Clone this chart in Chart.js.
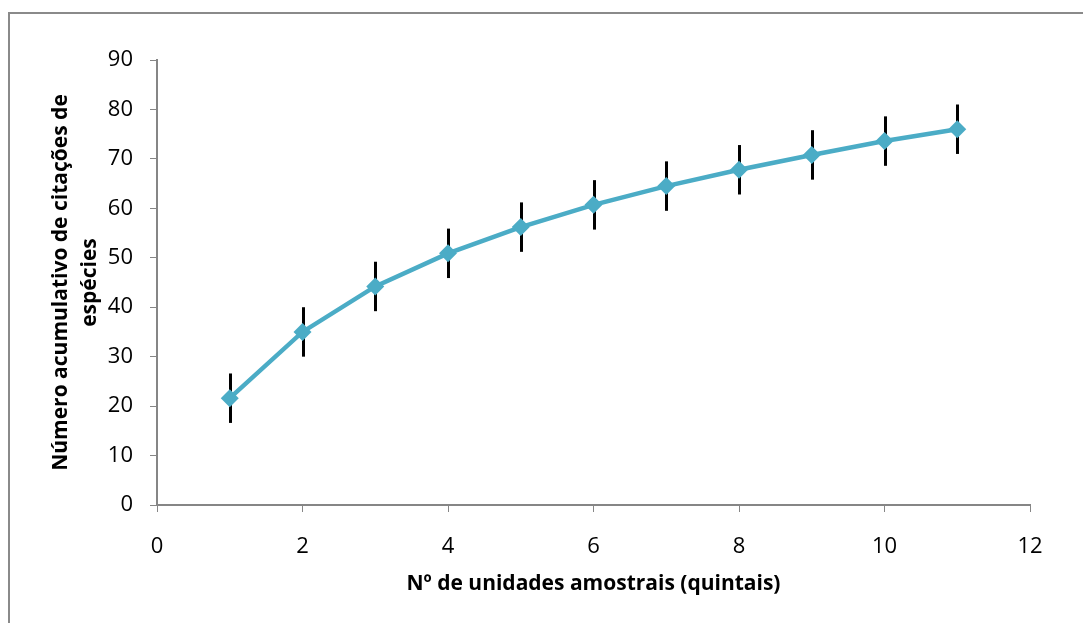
<!DOCTYPE html>
<html>
<head>
<meta charset="utf-8">
<script src="https://cdn.jsdelivr.net/npm/chart.js@4/dist/chart.umd.min.js"></script>
<style>
	body { margin: 0; background: #fff; overflow: hidden; }
	#wrap { position: relative; width: 1083px; height: 623px; }
	#frame { position: absolute; left: 8px; top: 12px; width: 1200px; height: 700px;
		border-left: 2px solid #8a8a8a; border-top: 2px solid #8a8a8a; }
	canvas { position: absolute; left: 0; top: 0; }
</style>
</head>
<body>
<div id="wrap">
	<div id="frame"></div>
	<canvas id="chart" width="1083" height="623"></canvas>
</div>
<script>
const samples = [1, 2, 3, 4, 5, 6, 7, 8, 9, 10, 11];
const species = [21.6, 35.0, 44.2, 50.9, 56.2, 60.7, 64.5, 67.8, 70.8, 73.6, 76.0];
const errors = [5, 5, 5, 5, 5, 5, 5, 5, 5, 5, 5];
const xTitle = "Nº de unidades amostrais (quintais)";
const yTitle = ["Número acumulativo de citações de", "espécies"];

const font = "'Open Sans', sans-serif";
const axisGray = '#868686';

// vertical error bars, drawn under the line and markers
const errorBars = {
	id: 'errorBars',
	beforeDatasetsDraw(chart) {
		const ctx = chart.ctx;
		const x = chart.scales.x;
		const y = chart.scales.y;
		ctx.save();
		ctx.strokeStyle = '#000';
		ctx.lineWidth = 3;
		for (let i=0; i<samples.length; i++) {
			const px = Math.round(x.getPixelForValue(samples[i])) + 0.5;
			ctx.beginPath();
			ctx.moveTo(px, y.getPixelForValue(species[i] + errors[i]));
			ctx.lineTo(px, y.getPixelForValue(species[i] - errors[i]));
			ctx.stroke();
		}
		ctx.restore();
	}
};

new Chart('chart', {
	type: 'scatter',
	data: {
		datasets: [{
			data: samples.map((s, i) => ({x: s, y: species[i]})),
			showLine: true,
			borderColor: '#4bacc6',
			backgroundColor: '#4bacc6',
			borderWidth: 4.5,
			pointStyle: 'rectRot',
			pointRadius: 9,
			pointHoverRadius: 9,
			pointBorderWidth: 0,
		}],
	},
	plugins: [errorBars],
	options: {
		responsive: false,
		animation: false,
		layout: { padding: { left: 46, top: 60, right: 53, bottom: 26 } },
		plugins: {
			legend: { display: false },
			tooltip: { enabled: false },
		},
		scales: {
			x: {
				type: 'linear',
				min: 0,
				max: 12,
				ticks: { stepSize: 2, color: '#000', padding: 22, font: { family: font, size: 22 } },
				grid: { drawOnChartArea: false, drawTicks: true, tickLength: 7, color: axisGray, lineWidth: 1 },
				border: { color: axisGray, width: 2 },
				title: { display: true, text: xTitle, color: '#000', padding: { top: 2, bottom: 0 },
					font: { family: font, size: 21, weight: 'bold' } },
				afterFit: s => { s.height = 623 - 505 - 26; },
			},
			y: {
				min: 0,
				max: 90,
				ticks: { stepSize: 10, color: '#000', padding: 17, font: { family: font, size: 22 } },
				grid: { drawOnChartArea: false, drawTicks: true, tickLength: 7, color: axisGray, lineWidth: 1 },
				border: { color: axisGray, width: 2 },
				title: { display: true, text: yTitle, color: '#000', padding: { top: 0, bottom: 4 },
					font: { family: font, size: 21, weight: 'bold', lineHeight: 1.4 } },
				afterFit: s => { s.width = 157 - 46; },
			},
		},
	},
});
</script>
</body>
</html>
